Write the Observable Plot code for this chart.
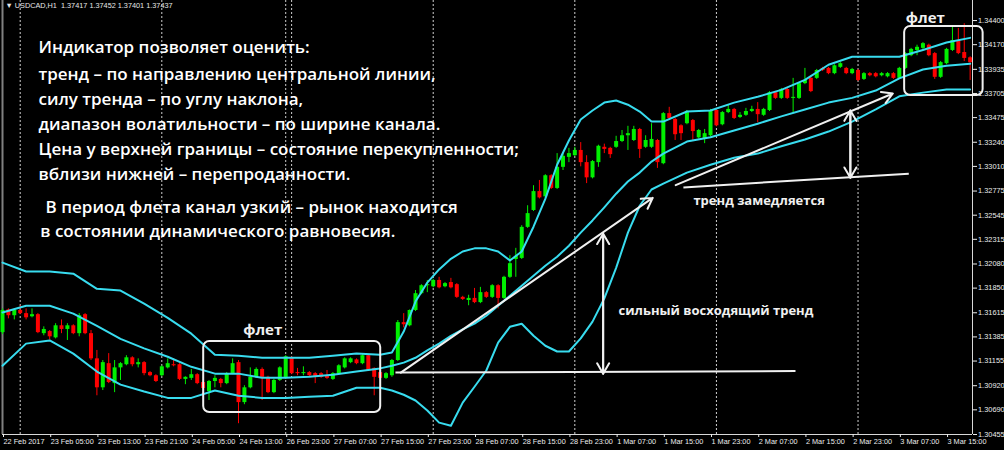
<!DOCTYPE html>
<html><head><meta charset="utf-8">
<script src="https://cdn.jsdelivr.net/npm/d3@7"></script>
<script src="https://cdn.jsdelivr.net/npm/@observablehq/plot@0.6"></script>
<style>html,body{margin:0;padding:0;background:#000;} #chart{width:1004px;height:450px;overflow:hidden;}</style>
</head><body><div id="chart"></div>
<script>
// ---- H1 candles, bar index 0..164 ----
const opens = [1.31426,1.31642,1.31587,1.31637,1.31607,1.31577,1.31597,1.31416,1.31436,1.31376,1.31491,1.31456,1.31491,1.31416,1.31597,1.31416,1.31176,1.30900,1.31130,1.30940,1.31090,1.31120,1.31186,1.31120,1.31140,1.31045,1.31015,1.31015,1.31090,1.31120,1.31120,1.30980,1.30990,1.31025,1.30950,1.30864,1.30960,1.30980,1.30940,1.31035,1.31140,1.30759,1.30900,1.31000,1.31075,1.31000,1.30854,1.30970,1.30990,1.31186,1.31045,1.31035,1.31045,1.31035,1.31035,1.31015,1.30980,1.31035,1.31090,1.31140,1.31166,1.31130,1.31206,1.31085,1.31045,1.30990,1.31015,1.31160,1.31521,1.31491,1.31637,1.31797,1.31873,1.31863,1.31923,1.31863,1.31903,1.31883,1.31762,1.31732,1.31752,1.31712,1.31807,1.31762,1.31873,1.31752,1.31953,1.32123,1.32133,1.32429,1.32590,1.32770,1.32720,1.32921,1.32800,1.33001,1.33096,1.33112,1.33162,1.33046,1.32901,1.33046,1.33192,1.33182,1.33192,1.33247,1.33302,1.33257,1.33362,1.33192,1.33192,1.33257,1.33036,1.33513,1.33457,1.33397,1.33417,1.33447,1.33282,1.33272,1.33302,1.33543,1.33407,1.33523,1.33553,1.33477,1.33497,1.33533,1.33553,1.33497,1.33543,1.33713,1.33658,1.33743,1.33658,1.33658,1.33799,1.33849,1.33849,1.33944,1.33944,1.33894,1.33954,1.33944,1.33894,1.33924,1.33839,1.33894,1.33894,1.33874,1.33864,1.33894,1.33849,1.33944,1.34065,1.34115,1.34135,1.34165,1.34085,1.33859,1.33989,1.34115,1.34210,1.34095,1.34045];
const highs = [1.31652,1.31652,1.31652,1.31682,1.31652,1.31652,1.31607,1.31481,1.31446,1.31511,1.31547,1.31511,1.31501,1.31607,1.31607,1.31446,1.31256,1.31160,1.31226,1.31160,1.31140,1.31206,1.31196,1.31176,1.31150,1.31055,1.31025,1.31110,1.31176,1.31176,1.31130,1.31005,1.31075,1.31035,1.30960,1.30970,1.31015,1.30990,1.31045,1.31176,1.31160,1.30920,1.31090,1.31090,1.31090,1.31010,1.30980,1.31100,1.31206,1.31196,1.31085,1.31100,1.31055,1.31045,1.31045,1.31065,1.31045,1.31120,1.31186,1.31186,1.31176,1.31216,1.31216,1.31090,1.31090,1.31045,1.31170,1.31541,1.31607,1.31642,1.31827,1.31883,1.31923,1.31933,1.31953,1.31903,1.31943,1.31893,1.31772,1.31782,1.31847,1.31857,1.31817,1.31883,1.31883,1.31963,1.32159,1.32229,1.32445,1.32635,1.32826,1.32876,1.32931,1.32931,1.33132,1.33142,1.33182,1.33192,1.33237,1.33112,1.33066,1.33212,1.33222,1.33192,1.33297,1.33352,1.33392,1.33392,1.33372,1.33302,1.33417,1.33267,1.33523,1.33573,1.33467,1.33407,1.33543,1.33457,1.33362,1.33362,1.33553,1.33553,1.33533,1.33593,1.33563,1.33523,1.33563,1.33583,1.33618,1.33563,1.33723,1.33723,1.33753,1.33753,1.33849,1.33809,1.33944,1.33859,1.33934,1.33954,1.33954,1.33979,1.33999,1.33954,1.33944,1.33934,1.33904,1.33904,1.33904,1.33904,1.33904,1.33904,1.33954,1.34095,1.34135,1.34165,1.34190,1.34175,1.34095,1.34009,1.34135,1.34335,1.34325,1.34370,1.34055];
const lows = [1.31406,1.31557,1.31547,1.31597,1.31547,1.31567,1.31416,1.31396,1.31356,1.31366,1.31416,1.31351,1.31406,1.31386,1.31406,1.31160,1.30824,1.30874,1.30940,1.30854,1.30970,1.31110,1.31100,1.31090,1.31015,1.31005,1.30950,1.31005,1.31080,1.31100,1.30970,1.30930,1.30970,1.30930,1.30884,1.30779,1.30900,1.30900,1.30930,1.31025,1.30558,1.30739,1.30890,1.30990,1.30779,1.30844,1.30844,1.30960,1.30980,1.31025,1.31015,1.31015,1.31005,1.30940,1.30990,1.30980,1.30970,1.31025,1.31080,1.31130,1.31120,1.31120,1.31055,1.30824,1.30980,1.30980,1.31000,1.31150,1.31471,1.31481,1.31627,1.31787,1.31807,1.31853,1.31843,1.31853,1.31843,1.31752,1.31732,1.31682,1.31702,1.31702,1.31752,1.31752,1.31652,1.31742,1.31943,1.31953,1.32123,1.32419,1.32580,1.32700,1.32710,1.32790,1.32790,1.32971,1.33046,1.33106,1.33006,1.32846,1.32891,1.33001,1.33132,1.33086,1.33182,1.33237,1.33162,1.33247,1.33086,1.33182,1.33182,1.32991,1.33026,1.33457,1.33257,1.33257,1.33407,1.33257,1.33272,1.33227,1.33292,1.33387,1.33397,1.33513,1.33457,1.33467,1.33487,1.33523,1.33427,1.33487,1.33533,1.33648,1.33648,1.33648,1.33523,1.33648,1.33789,1.33713,1.33839,1.33914,1.33884,1.33884,1.33944,1.33884,1.33884,1.33819,1.33829,1.33864,1.33854,1.33864,1.33854,1.33839,1.33839,1.33934,1.34055,1.34065,1.34125,1.34055,1.33839,1.33849,1.33979,1.34105,1.34075,1.34009,1.33829];
const closes = [1.31637,1.31587,1.31637,1.31607,1.31567,1.31597,1.31426,1.31456,1.31386,1.31491,1.31456,1.31491,1.31416,1.31587,1.31416,1.31176,1.30900,1.31140,1.30950,1.31090,1.31130,1.31186,1.31120,1.31140,1.31035,1.31015,1.30960,1.31100,1.31130,1.31110,1.30980,1.31000,1.31025,1.30940,1.30894,1.30960,1.30990,1.30940,1.31035,1.31130,1.30759,1.30900,1.31000,1.31075,1.31000,1.30854,1.30970,1.31090,1.31196,1.31035,1.31035,1.31045,1.31015,1.31005,1.31000,1.30990,1.31035,1.31110,1.31176,1.31176,1.31130,1.31206,1.31065,1.31000,1.30990,1.31035,1.31160,1.31521,1.31501,1.31637,1.31797,1.31873,1.31883,1.31923,1.31853,1.31893,1.31853,1.31762,1.31742,1.31752,1.31712,1.31807,1.31762,1.31873,1.31752,1.31953,1.32083,1.32153,1.32429,1.32560,1.32770,1.32710,1.32921,1.32800,1.33001,1.33106,1.33132,1.33162,1.33046,1.32901,1.33056,1.33202,1.33172,1.33122,1.33247,1.33302,1.33322,1.33362,1.33172,1.33257,1.33267,1.33046,1.33513,1.33467,1.33312,1.33322,1.33523,1.33342,1.33352,1.33322,1.33543,1.33397,1.33523,1.33553,1.33467,1.33497,1.33533,1.33553,1.33503,1.33553,1.33713,1.33658,1.33743,1.33658,1.33668,1.33799,1.33829,1.33723,1.33924,1.33924,1.33894,1.33969,1.33989,1.33894,1.33934,1.33829,1.33894,1.33874,1.33864,1.33894,1.33894,1.33849,1.33944,1.34085,1.34125,1.34145,1.34180,1.34065,1.33859,1.33999,1.34125,1.34210,1.34085,1.34039,1.33999];

// ---- Bollinger bands, read at these bar indices ----
const bandBars = [0,4,8,12,16,20,24,28,32,36,40,44,48,52,56,60,64,66,68,70,72,74,76,78,80,82,84,86,88,90,92,94,96,98,100,102,104,106,108,110,112,116,120,124,128,132,136,140,144,148,152,156,160,164];
const upperBand = [1.32093,1.32008,1.32008,1.31988,1.31843,1.31827,1.31702,1.31567,1.31416,1.31216,1.31206,1.31186,1.31186,1.31186,1.31206,1.31226,1.31216,1.31236,1.31436,1.31722,1.31903,1.32028,1.32129,1.32199,1.32229,1.32229,1.32199,1.32113,1.32199,1.32435,1.32700,1.33026,1.33257,1.33457,1.33543,1.33618,1.33638,1.33598,1.33533,1.33437,1.33437,1.33533,1.33543,1.33618,1.33673,1.33739,1.33834,1.33979,1.34055,1.34055,1.34055,1.34120,1.34190,1.34235];
const middleBand = [1.31617,1.31682,1.31682,1.31607,1.31491,1.31366,1.31276,1.31196,1.31100,1.31035,1.31035,1.30995,1.30995,1.31005,1.31025,1.31055,1.31085,1.31110,1.31140,1.31186,1.31256,1.31321,1.31396,1.31456,1.31511,1.31587,1.31682,1.31777,1.31873,1.31968,1.32063,1.32149,1.32254,1.32379,1.32495,1.32620,1.32750,1.32866,1.32951,1.33056,1.33132,1.33247,1.33287,1.33352,1.33417,1.33487,1.33553,1.33618,1.33663,1.33733,1.33849,1.33934,1.33969,1.33989];
const lowerBand = [1.31110,1.31321,1.31351,1.31226,1.31055,1.30930,1.30864,1.30804,1.30804,1.30874,1.30824,1.30804,1.30804,1.30814,1.30824,1.30900,1.30900,1.30874,1.30834,1.30779,1.30684,1.30568,1.30538,1.30759,1.30910,1.31065,1.31331,1.31481,1.31511,1.31396,1.31301,1.31246,1.31246,1.31371,1.31531,1.31752,1.32043,1.32379,1.32635,1.32790,1.32846,1.32951,1.33026,1.33092,1.33132,1.33202,1.33267,1.33342,1.33437,1.33553,1.33678,1.33713,1.33743,1.33743];

// ---- axes ----
const tickBars = [0,8,16,24,32,40,48,56,64,72,80,88,96,104,112,120,128,136,144,152,160];
const tickLabels = ["22 Feb 2017","23 Feb 05:00","23 Feb 13:00","23 Feb 21:00","24 Feb 05:00","24 Feb 13:00","26 Feb 23:00","27 Feb 07:00","27 Feb 15:00","27 Feb 23:00","28 Feb 07:00","28 Feb 15:00","28 Feb 23:00","1 Mar 07:00","1 Mar 15:00","1 Mar 23:00","2 Mar 07:00","2 Mar 15:00","2 Mar 23:00","3 Mar 07:00","3 Mar 15:00"];
const priceTicks = [1.34400,1.34170,1.33935,1.33705,1.33475,1.33240,1.33010,1.32775,1.32545,1.32315,1.32080,1.31850,1.31615,1.31385,1.31155,1.30920,1.30690,1.30455];
const daySeparators = [3,27,48,49,73,97,121,145];
const header = "\u25BC USDCAD,H1\u00a0\u00a01.37417 1.37452 1.37401 1.37437";

// ---- annotations (bar index, price) ----
const noteLines = [
  {x: 6.1, y: 1.34143, text: "Индикатор позволяет оценить:"},
  {x: 6.1, y: 1.33886, text: "тренд – по направлению центральной линии,"},
  {x: 6.1, y: 1.33648, text: "силу тренда – по углу наклона,"},
  {x: 6.1, y: 1.33409, text: "диапазон волатильности – по ширине канала."},
  {x: 6.1, y: 1.33171, text: "Цена у верхней границы – состояние перекупленности;"},
  {x: 6.1, y: 1.32933, text: "вблизи нижней – перепроданности."},
  {x: 7.3, y: 1.32618, text: "В период флета канал узкий – рынок находится"},
  {x: 6.4, y: 1.32389, text: "в состоянии динамического равновесия."}
];
const flatBoxes = [
  {x1: 34.1, x2: 64.1, y1: 1.30664, y2: 1.31341},
  {x1: 152.9, x2: 166.2, y1: 1.33686, y2: 1.34343}
];
const flatLabels = [
  {x: 44.1, y: 1.31446, text: "флет"},
  {x: 156.4, y: 1.34419, text: "флет"}
];
const trendLabels = [
  {x: 104.4, y: 1.31637, text: "сильный восходящий тренд"},
  {x: 117.1, y: 1.32685, text: "тренд замедляется"}
];
const baseLines = [
  {x1: 66.6, y1: 1.31045, x2: 134.4, y2: 1.31060},
  {x1: 115.4, y1: 1.32810, x2: 153.6, y2: 1.32941}
];
const arrows = [
  {x1: 67.5, y1: 1.31045, x2: 110.2, y2: 1.32710},
  {x1: 114.1, y1: 1.32831, x2: 150.9, y2: 1.33705},
  {x1: 101.8, y1: 1.31035, x2: 101.8, y2: 1.32369},
  {x1: 101.8, y1: 1.32369, x2: 101.8, y2: 1.31035},
  {x1: 143.7, y1: 1.32901, x2: 143.7, y2: 1.33543},
  {x1: 143.7, y1: 1.33543, x2: 143.7, y2: 1.32901}
];

// ---- build tables ----
const bars = opens.map((o, i) => ({i, open: o, high: highs[i], low: lows[i], close: closes[i]}));
const bull = bars.filter(d => d.close >= d.open);
const bear = bars.filter(d => d.close < d.open);
const bands = bandBars.map((b, k) => ({i: b, upper: upperBand[k], middle: middleBand[k], lower: lowerBand[k]}));
const labelByBar = new Map(tickBars.map((b, k) => [b, tickLabels[k]]));

const BULL = "#00f000", BEAR = "#ff0000", CYAN = "#38dcef", WHITE = "#f0f0f0";
const xMax = 164.4, yMin = 1.30455, yMax = 1.34591;

const chart = Plot.plot({
  width: 1004, height: 450,
  marginLeft: 2, marginRight: 32, marginTop: 0, marginBottom: 16,
  style: {background: "#000", color: "#e8e8e8", overflow: "visible", fontFamily: "Liberation Sans, sans-serif"},
  x: {domain: [0, xMax], axis: null},
  y: {domain: [yMin, yMax], axis: null},
  marks: [
    Plot.ruleX(daySeparators, {stroke: "#cfcfcf", strokeDasharray: "2,2", strokeWidth: 1}),
    Plot.ruleX([0], {stroke: "#808080", strokeWidth: 2}),
    Plot.ruleX(bull, {x: "i", y1: "low", y2: "high", stroke: BULL, strokeWidth: 1}),
    Plot.ruleX(bear, {x: "i", y1: "low", y2: "high", stroke: BEAR, strokeWidth: 1}),
    Plot.ruleX(bull, {x: "i", y1: "open", y2: "close", stroke: BULL, strokeWidth: 4}),
    Plot.ruleX(bear, {x: "i", y1: "open", y2: "close", stroke: BEAR, strokeWidth: 4}),
    Plot.line(bands, {x: "i", y: "upper", stroke: CYAN, strokeWidth: 2}),
    Plot.line(bands, {x: "i", y: "middle", stroke: CYAN, strokeWidth: 2}),
    Plot.line(bands, {x: "i", y: "lower", stroke: CYAN, strokeWidth: 2}),
    Plot.ruleX([xMax], {stroke: "#d8d8d8", strokeWidth: 1}),
    Plot.ruleY([yMin], {stroke: "#d8d8d8", strokeWidth: 1}),
    Plot.axisY(priceTicks, {anchor: "right", tickSize: 4, tickPadding: 1.5, tickFormat: d3.format(".5f"), fontSize: 7.4, color: "#ececec"}),
    Plot.axisX(tickBars, {anchor: "bottom", tickSize: 3, tickPadding: 1, tickFormat: d => labelByBar.get(d), textAnchor: "start", dx: 1, fontSize: 7.3, color: "#ececec"}),
    Plot.text([header], {frameAnchor: "top-left", dx: 3, dy: 2, lineAnchor: "top", textAnchor: "start", fontSize: 7.3, fill: "#e6e6e6"}),
    Plot.rect(flatBoxes, {x1: "x1", x2: "x2", y1: "y1", y2: "y2", fill: "none", stroke: WHITE, strokeWidth: 2, rx: 6}),
    Plot.link(baseLines, {x1: "x1", y1: "y1", x2: "x2", y2: "y2", stroke: WHITE, strokeWidth: 2}),
    Plot.arrow(arrows, {x1: "x1", y1: "y1", x2: "x2", y2: "y2", stroke: WHITE, strokeWidth: 2, headLength: 9}),
    Plot.text(flatLabels, {x: "x", y: "y", text: "text", fill: WHITE, fontSize: 15, fontWeight: 700, fontFamily: "Open Sans", textAnchor: "middle"}),
    Plot.text(trendLabels, {x: "x", y: "y", text: "text", fill: WHITE, fontSize: 13, fontWeight: 700, fontFamily: "Open Sans", textAnchor: "start", letterSpacing: "0.3px"}),
    Plot.text(noteLines, {x: "x", y: "y", text: "text", fill: "#ffffff", fontSize: 17, fontWeight: 600, fontFamily: "Open Sans", textAnchor: "start"})
  ]
});
document.getElementById("chart").append(chart);
</script>
</body></html>
